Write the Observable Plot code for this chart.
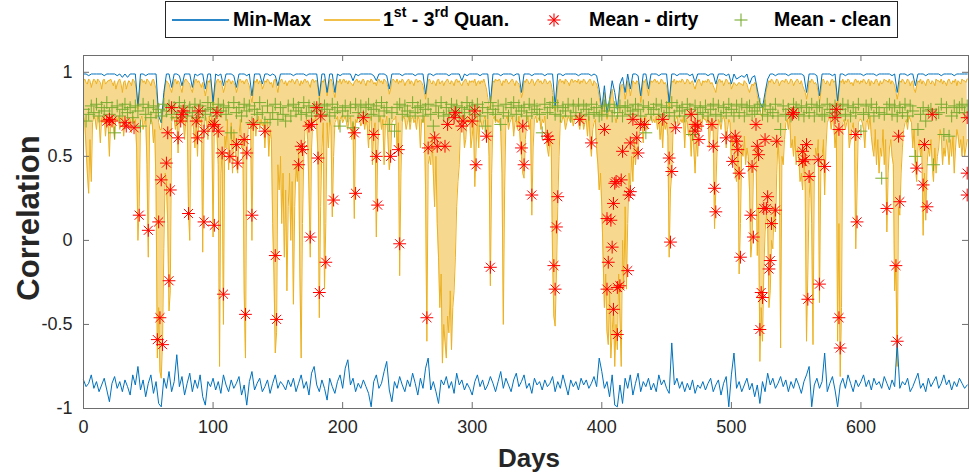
<!DOCTYPE html>
<html><head><meta charset="utf-8">
<script src="https://cdn.jsdelivr.net/npm/d3@7"></script>
<script src="https://cdn.jsdelivr.net/npm/@observablehq/plot@0.6"></script>
<style>
body{margin:0;background:#fff;}
#wrap{position:relative;width:969px;height:476px;overflow:hidden;font-family:"Liberation Sans",Arial,Helvetica,sans-serif;}
#chart{position:absolute;left:0;top:0;}
#legend{position:absolute;left:165px;top:1px;width:731px;height:35px;border:1px solid #262626;background:#fff;font-weight:bold;font-size:19.5px;color:#000;}
.li{position:absolute;top:0;height:100%;display:flex;align-items:center;white-space:nowrap;}
.ln{position:absolute;top:17px;height:2px;}
.sp{font-size:14px;position:relative;top:-8px;}
#ylab{position:absolute;left:28px;top:218px;transform:translate(-50%,-50%) rotate(-90deg);font-weight:bold;font-size:31px;color:#262626;white-space:nowrap;line-height:1;}
#xlab{position:absolute;left:529px;top:458px;transform:translate(-50%,-50%);font-weight:bold;font-size:26px;color:#262626;line-height:1;}
</style></head>
<body>
<div id="wrap">
  <div id="chart"></div>
  <div id="legend">
    <div class="ln" style="left:6px;width:57px;background:#2b86c8;"></div>
    <div class="li" style="left:67px;">Min-Max</div>
    <div class="ln" style="left:158px;width:56px;background:#f0c04a;"></div>
    <div class="li" style="left:217px;">1<span class="sp">st</span>&nbsp;- 3<span class="sp">rd</span>&nbsp;Quan.</div>
    <div class="li" style="left:381px;"><svg width="14" height="14"><g stroke="#FF0000" stroke-width="1.1"><line x1="7" y1="0.5" x2="7" y2="13.5"/><line x1="0.5" y1="7" x2="13.5" y2="7"/><line x1="2.4" y1="2.4" x2="11.6" y2="11.6"/><line x1="11.6" y1="2.4" x2="2.4" y2="11.6"/></g></svg></div>
    <div class="li" style="left:423px;">Mean - dirty</div>
    <div class="li" style="left:568px;"><svg width="14" height="14"><g stroke="#77AC30" stroke-width="1.1"><line x1="7" y1="0.5" x2="7" y2="13.5"/><line x1="0.5" y1="7" x2="13.5" y2="7"/></g></svg></div>
    <div class="li" style="left:608px;">Mean - clean</div>
  </div>
  <div id="ylab">Correlation</div>
  <div id="xlab">Days</div>
</div>
<script>
// min / max / clean-mean series are sampled every 2 days; quartiles are daily
const dayStep = 2;

const maxVals = [
.99,.99,.98,.99,.99,.99,.99,.99,.98,.99,
.99,.99,.99,.98,.99,.97,.99,.97,.99,.99,
.99,.80,.99,.99,.98,.99,.99,.99,.99,.74,
.70,.88,.99,.99,.91,.99,.99,.98,.92,.99,
.99,.99,.91,.99,.98,.99,.99,.90,.99,.99,
.82,.99,.98,.99,.92,.99,.99,.99,.98,.91,
.99,.99,.99,.98,.99,.86,.99,.99,.99,.93,
.99,.99,.98,.99,.98,.92,.99,.99,.99,.99,
.99,.98,.99,.99,.99,.99,.98,.99,.99,.99,
.99,.86,.99,.99,.88,.99,.99,.88,.99,.98,
.99,.99,.99,.99,.95,.99,.98,.99,.99,.99,
.99,.99,.98,.95,.99,.99,.99,.98,.90,.99,
.99,.99,.99,.98,.99,.99,.99,.99,.98,.99,
.99,.99,.87,.99,.99,.98,.99,.99,.99,.99,
.99,.98,.99,.99,.99,.99,.95,.99,.98,.99,
.99,.99,.99,.98,.99,.99,.99,.82,.99,.99,
.99,.98,.99,.99,.99,.99,.98,.99,.99,.88,
.99,.99,.99,.98,.99,.99,.99,.99,.98,.99,
.99,.99,.80,.99,.99,.98,.99,.99,.99,.99,
.99,.98,.99,.99,.99,.99,.98,.99,.98,.90,
.78,.92,.76,.84,.95,.88,.78,.93,.97,.88,
.99,.90,.99,.99,.98,.86,.99,.99,.90,.99,
.99,.99,.98,.99,.99,.99,.82,.99,.99,.98,
.99,.99,.99,.99,.98,.99,.94,.99,.99,.99,
.99,.98,.99,.99,.93,.99,.99,.99,.98,.99,
.93,.99,.96,.97,.98,.97,.99,.93,.97,.98,
.90,.82,.79,.88,.96,.99,.99,.98,.99,.99,
.99,.99,.98,.99,.99,.99,.99,.99,.98,.88,
.99,.99,.99,.98,.86,.99,.99,.99,.99,.98,
.99,.83,.99,.99,.98,.99,.99,.99,.99,.99,
.99,.98,.99,.99,.99,.99,.98,.99,.99,.99,
.99,.99,.98,.99,.88,.99,.99,.99,.98,.99,
.99,.92,.99,.99,.99,.98,.99,.99,.99,.99,
.99,.98,.99,.99,.99,.99,.98,.99,.99,.99,
.99,.99];

const minVals = [
-.83,-.87,-.85,-.80,-.88,-.84,-.90,-.86,-.82,-.89,
-.96,-.85,-.81,-.88,-.84,-.90,-.83,-.87,-.92,-.80,
-.86,-.75,-.89,-.83,-.93,-.85,-.80,-.91,-.84,-.97,
-.99,-.82,-.88,-.78,-.90,-.84,-.68,-.87,-.81,-.92,
-.85,-.79,-.90,-.83,-.88,-.80,-.93,-.98,-.84,-.87,
-.82,-.89,-.84,-.91,-.80,-.86,-.90,-.83,-.88,-.85,
-.81,-.92,-.86,-.98,-.84,-.78,-.89,-.85,-.82,-.90,
-.87,-.83,-.91,-.85,-.80,-.88,-.84,-.86,-.89,-.83,
-.87,-.82,-.90,-.85,-.80,-.88,-.84,-.92,-.79,-.75,
-.86,-.90,-.83,-.88,-.95,-.82,-.87,-.91,-.84,-.80,
-.88,-.76,-.71,-.86,-.82,-.90,-.85,-.88,-.83,-.87,
-.91,-.99,-.84,-.80,-.88,-.85,-.78,-.72,-.89,-.96,
-.84,-.88,-.81,-.86,-.90,-.83,-.87,-.79,-.85,-.92,
-.82,-.88,-.76,-.70,-.89,-.84,-.90,-.97,-.83,-.86,
-.81,-.88,-.84,-.91,-.79,-.86,-.83,-.89,-.85,-.88,
-.92,-.84,-.80,-.87,-.83,-.89,-.86,-.81,-.85,-.90,
-.84,-.78,-.88,-.82,-.86,-.90,-.83,-.79,-.87,-.84,
-.80,-.88,-.85,-.91,-.82,-.86,-.84,-.89,-.83,-.87,
-.85,-.81,-.90,-.84,-.88,-.80,-.86,-.92,-.83,-.87,
-.84,-.89,-.82,-.86,-.83,-.88,-.85,-.81,-.87,-.70,
-.78,-.88,-.84,-.93,-.80,-.98,-.99,-.86,-.97,-.82,
-.88,-.80,-.92,-.85,-.79,-.90,-.84,-.87,-.82,-.89,
-.85,-.90,-.80,-.86,-.83,-.88,-.91,-.61,-.86,-.82,
-.88,-.84,-.90,-.85,-.89,-.83,-.91,-.86,-.88,-.84,
-.89,-.85,-.82,-.90,-.86,-.83,-.92,-.85,-.81,-.99,
-.80,-.67,-.88,-.84,-.90,-.86,-.82,-.89,-.85,-.93,
-.86,-.97,-.84,-.90,-.79,-.86,-.82,-.88,-.85,-.81,
-.87,-.83,-.90,-.84,-.88,-.82,-.86,-.91,-.84,-.80,
-.75,-.99,-.86,-.82,-.88,-.84,-.67,-.90,-.85,-.81,
-.89,-.99,-.86,-.82,-.88,-.80,-.85,-.90,-.83,-.87,
-.84,-.80,-.87,-.83,-.89,-.82,-.86,-.84,-.88,-.81,
-.85,-.89,-.83,-.87,-.61,-.88,-.84,-.86,-.82,-.90,
-.87,-.83,-.79,-.88,-.85,-.90,-.82,-.87,-.84,-.81,
-.88,-.85,-.80,-.86,-.83,-.89,-.84,-.87,-.82,-.85,
-.88,-.86];

const cleanVals = [
.78,.71,.75,.80,.76,.81,.74,.79,.77,.82,
.75,.79,.64,.80,.74,.78,.81,.76,.79,.73,
.80,.77,.68,.81,.75,.79,.73,.80,.76,.78,
.74,.81,.77,.80,.75,.79,.73,.82,.76,.80,
.74,.79,.76,.81,.73,.80,.77,.75,.82,.78,
.79,.74,.81,.77,.80,.75,.79,.64,.82,.76,
.79,.74,.81,.77,.80,.70,.78,.75,.82,.76,
.70,.80,.72,.76,.81,.72,.79,.75,.71,.80,
.74,.81,.77,.79,.75,.82,.76,.80,.74,.79,
.77,.81,.75,.80,.78,.74,.81,.76,.79,.68,
.77,.80,.74,.79,.67,.81,.76,.80,.74,.79,
.81,.75,.78,.80,.74,.82,.77,.79,.69,.76,
.65,.79,.81,.75,.80,.77,.74,.82,.76,.79,
.80,.74,.78,.81,.75,.68,.80,.76,.82,.74,
.79,.75,.81,.77,.80,.74,.79,.76,.82,.78,
.80,.75,.81,.74,.79,.68,.76,.82,.78,.75,
.80,.69,.76,.81,.74,.79,.82,.75,.80,.77,
.79,.74,.81,.76,.80,.78,.75,.64,.81,.76,
.79,.82,.75,.80,.74,.79,.77,.81,.74,.80,
.76,.81,.74,.80,.78,.75,.81,.76,.79,.74,
.75,.80,.77,.81,.74,.79,.76,.80,.74,.79,
.80,.75,.77,.81,.78,.74,.80,.64,.79,.75,
.78,.81,.75,.80,.74,.79,.76,.82,.74,.80,
.77,.79,.74,.81,.78,.63,.80,.75,.79,.76,
.80,.74,.78,.81,.75,.80,.74,.79,.76,.81,
.78,.74,.80,.76,.81,.74,.79,.80,.75,.77,
.79,.81,.75,.80,.74,.78,.76,.81,.74,.66,
.80,.75,.78,.74,.81,.79,.75,.80,.74,.79,
.76,.81,.74,.79,.80,.75,.74,.81,.78,.76,
.80,.74,.78,.81,.75,.80,.74,.79,.76,.81,
.65,.75,.80,.76,.81,.74,.79,.76,.37,.75,
.79,.81,.75,.80,.74,.79,.76,.81,.74,.80,
.77,.50,.66,.75,.79,.71,.77,.78,.45,.75,
.76,.81,.63,.79,.62,.74,.80,.76,.79,.81,
.76,.80];

// daily 1st quartile, days 0..682
const q1Vals = [
.74,.70,.55,.40,.28,.60,.35,.70,.74,.72,.66,.74,.72,.58,.73,.70,.74,.62,.72,.70,
.50,.72,.74,.68,.60,.73,.71,.74,.66,.72,.74,.62,.70,.73,.74,.68,.72,.64,.74,.70,
.72,.55,.00,.20,.72,.74,.66,.70,.73,.45,-.10,.68,.72,.70,.58,.66,.30,-.70,-.40,-.78,
-.82,-.60,-.05,.40,.35,.10,-.42,-.30,.70,.74,.72,.66,.74,.52,.72,.74,.70,.73,.60,.72,
.74,.20,.00,.72,.74,.66,.55,.72,.50,.74,.70,.72,-.07,.66,.74,.72,.60,.74,.68,.73,
.02,.72,.70,.64,.45,-.75,.40,.52,-.50,.62,.55,.72,.42,.58,.70,.40,.66,.58,.45,.40,
.62,.72,.55,.60,-.30,-.70,.50,.66,.70,.68,.00,.66,.72,.62,.70,.74,.66,.72,.68,.70,
.55,.70,.72,.50,.66,.60,.10,-.20,-.67,-.55,.45,.30,.50,.10,.40,-.10,.30,-.30,.20,.40,
.00,.35,-.38,.20,.45,.35,.55,-.20,-.70,.10,.50,.68,.72,.60,.30,-.10,.55,.72,.70,.74,
.68,.50,-.46,.20,.55,.70,-.29,.10,.70,.55,.72,.68,.14,.50,.70,.72,.74,.66,.72,.74,
.70,.72,.74,.70,.66,.72,.74,.60,.70,.13,.72,.70,.74,.72,.68,.70,.74,.66,.72,.68,
.55,.72,.74,.45,.66,.70,.02,.50,.70,.74,.66,.72,.45,.70,.74,.60,.42,.50,.70,.72,
.72,.74,.55,.70,-.21,.40,.70,.74,.72,.66,.70,.74,.66,.72,.74,.70,.72,.66,.74,.72,
.55,.72,.70,.74,.30,-.60,.45,.50,.45,.62,.40,.20,.50,.10,-.10,-.40,-.20,-.73,-.50,-.60,
-.70,-.45,-.55,-.30,-.65,-.40,-.30,-.10,.20,.35,.45,.70,.74,.72,.55,.60,.72,.70,.74,.55,
.62,.72,.32,.55,.74,.55,.72,.70,.66,.72,.74,.58,.72,.50,-.27,.40,.72,.74,.70,.72,
.70,.72,.66,.40,-.50,.30,.72,.74,.66,.70,.72,.74,.62,.70,.72,.66,.74,.60,.50,.40,
.37,.60,.70,.74,.66,.72,.15,.55,.72,.74,.70,.72,.74,.66,.72,.70,.74,.62,.55,.50,
.60,.55,-.10,-.45,-.51,-.20,.20,.50,.72,.70,.74,.72,.66,.70,.74,.72,.70,.74,.68,.72,
.72,.74,.70,.66,.72,.74,.66,.70,.72,.62,.74,.60,.50,.66,.70,.72,.55,.45,.30,.40,
.20,-.10,-.40,-.20,-.54,-.62,-.30,-.70,-.55,-.40,-.75,-.50,-.65,-.20,-.45,-.75,.00,-.29,.20,-.29,
.10,.40,.30,.50,.35,.60,.45,.55,.50,.66,.70,.72,.58,.74,.72,.66,.70,.72,.74,.70,
.72,.70,.74,.66,.72,.60,.70,.55,.72,.66,.70,.62,-.10,.30,.40,.66,.70,.72,.74,.68,
.70,.72,.70,.74,.55,.72,.70,.62,.66,.50,.70,.55,.40,.60,.50,.70,.72,.66,.74,.72,
.72,.70,.74,.55,.70,.72,.66,.07,.30,.55,.72,.70,.66,.72,.74,.70,.55,.66,.72,.70,
.45,.60,.55,.40,.35,.60,-.20,.10,.55,.50,.62,.45,.55,.50,.30,-.10,.00,.40,.50,.55,
-.09,.20,-.72,-.40,-.60,-.20,.05,.15,.10,-.40,-.30,.00,-.05,.20,.05,.40,.60,.45,-.64,.50,
.45,.60,.70,.72,.66,.74,.55,.60,.50,.62,.45,.55,.50,.35,.40,.30,.55,.30,-.60,-.20,
.25,.40,.10,-.62,.40,.55,.50,.60,-.37,.40,.50,.60,.27,.55,.70,.72,.74,.66,.72,.70,
.55,.66,-.60,.10,-.81,-.40,.70,.72,.66,.70,.72,.55,.60,.66,.70,.62,-.05,.30,.70,.72,
.72,.70,.66,.55,.70,.72,.66,.74,.62,.55,.50,.66,.45,.60,.40,.55,.50,.66,.45,.60,
.05,.40,.55,.60,.50,.45,-.30,-.15,-.75,.20,.15,.40,.55,.66,.70,.72,.66,.74,.72,.70,
.55,.66,.45,.35,.55,.60,.50,.55,.03,.40,.12,.45,.55,.50,.60,.45,.35,.55,.40,.50,
.55,.66,.62,.45,.55,.50,.60,.55,.45,.60,.50,.62,.40,.55,.66,.62,.55,.60,.50,.62,
.50,.55,.60];

// daily 3rd quartile, days 0..682
const q3Vals = [
.95,.96,.94,.93,.96,.95,.91,.94,.96,.95,.93,.96,.95,.94,.90,.95,.96,.93,.94,.95,
.95,.96,.94,.92,.95,.90,.93,.95,.96,.93,.88,.94,.95,.90,.93,.95,.94,.92,.96,.95,
.93,.88,.78,.86,.95,.96,.94,.95,.93,.96,.95,.94,.92,.95,.96,.93,.90,.82,.70,.66,
.66,.74,.85,.92,.95,.94,.93,.90,.88,.92,.95,.96,.93,.95,.94,.91,.88,.93,.95,.96,
.95,.94,.93,.90,.88,.92,.95,.96,.94,.95,.93,.91,.94,.90,.86,.90,.95,.94,.96,.90,
.80,.88,.93,.95,.96,.94,.95,.92,.88,.91,.95,.94,.96,.95,.93,.95,.94,.92,.88,.91,
.95,.96,.94,.95,.93,.95,.96,.94,.92,.86,.82,.88,.95,.94,.96,.93,.95,.94,.90,.92,
.95,.94,.96,.95,.93,.94,.91,.95,.96,.92,.88,.93,.95,.96,.94,.93,.95,.92,.94,.95,
.94,.96,.95,.93,.95,.96,.94,.92,.95,.93,.95,.96,.94,.95,.93,.91,.95,.96,.94,.95,
.95,.90,.84,.90,.95,.94,.96,.92,.86,.91,.95,.96,.94,.88,.85,.92,.95,.94,.96,.93,
.95,.96,.94,.95,.93,.95,.94,.93,.92,.94,.95,.96,.94,.95,.93,.95,.96,.94,.92,.95,
.95,.94,.96,.95,.93,.94,.92,.95,.96,.94,.95,.93,.96,.95,.94,.91,.87,.90,.95,.96,
.95,.94,.96,.93,.95,.94,.96,.95,.92,.94,.95,.96,.93,.95,.94,.92,.95,.96,.94,.95,
.95,.94,.92,.88,.84,.90,.95,.96,.94,.93,.95,.94,.92,.95,.96,.93,.94,.95,.92,.94,
.95,.96,.94,.93,.95,.94,.92,.95,.96,.94,.95,.93,.92,.94,.95,.96,.94,.92,.95,.94,
.95,.94,.96,.92,.94,.95,.93,.95,.94,.96,.93,.90,.85,.80,.78,.88,.95,.94,.96,.95,
.95,.96,.94,.92,.95,.94,.96,.95,.93,.94,.95,.96,.94,.92,.95,.94,.93,.90,.85,.88,
.95,.94,.96,.95,.93,.94,.96,.95,.92,.94,.95,.96,.94,.95,.93,.94,.96,.95,.93,.94,
.95,.93,.88,.82,.77,.85,.92,.95,.96,.94,.95,.93,.96,.95,.94,.92,.95,.96,.94,.95,
.95,.94,.96,.93,.95,.94,.96,.95,.93,.94,.95,.96,.94,.92,.95,.94,.93,.90,.85,.80,
.74,.80,.88,.80,.72,.76,.80,.86,.90,.84,.74,.70,.74,.82,.88,.92,.93,.90,.84,.88,
.95,.91,.86,.90,.95,.94,.93,.95,.94,.92,.82,.88,.95,.94,.96,.90,.86,.92,.95,.94,
.95,.96,.94,.95,.93,.94,.96,.95,.93,.94,.92,.86,.78,.88,.95,.94,.96,.93,.95,.94,
.95,.94,.96,.95,.93,.94,.96,.95,.93,.94,.95,.92,.90,.93,.95,.96,.94,.92,.95,.94,
.95,.94,.96,.95,.93,.94,.92,.90,.88,.93,.95,.96,.94,.95,.92,.94,.96,.95,.93,.94,
.90,.92,.94,.93,.92,.93,.94,.93,.93,.92,.95,.94,.93,.90,.88,.91,.93,.92,.94,.93,
.86,.82,.78,.74,.75,.80,.84,.90,.92,.95,.94,.96,.95,.93,.94,.96,.95,.92,.94,.95,
.95,.94,.96,.95,.93,.94,.96,.95,.92,.94,.95,.96,.94,.93,.95,.92,.90,.88,.84,.88,
.95,.94,.96,.95,.93,.94,.92,.88,.82,.88,.95,.96,.94,.93,.95,.94,.92,.95,.96,.94,
.95,.88,.80,.88,.95,.94,.96,.93,.95,.94,.96,.95,.93,.94,.92,.95,.96,.94,.95,.93,
.95,.94,.96,.95,.93,.94,.96,.92,.95,.94,.93,.95,.96,.94,.92,.95,.93,.94,.96,.95,
.95,.94,.96,.93,.95,.94,.92,.88,.84,.88,.95,.94,.96,.95,.93,.94,.96,.95,.92,.94,
.95,.90,.88,.92,.95,.94,.96,.93,.95,.94,.92,.95,.96,.94,.93,.95,.94,.92,.96,.95,
.95,.94,.96,.93,.95,.94,.92,.95,.96,.94,.93,.95,.94,.96,.92,.95,.94,.93,.96,.95,
.95,.94,.96];

const dirtyDays = [
18,20,22,32,33,39,43,50,58,60,64,65,68,67,66,59,57,61,73,75,76,77,81,87,88,89,93,93,101,100,101,104,103,107,108,113,118,119,124,126,125,130,131,
140,148,149,166,168,169,175,174,176,180,183,181,182,187,193,209,210,216,224,226,227,237,243,244,265,266,271,273,
279,281,286,287,292,293,300,302,303,311,314,339,338,340,346,358,359,366,365,363,364,383,392,402,410,409,404,407,408,405,404,409,412,412,
424,430,433,427,422,416,428,415,411,422,421,414,420,447,457,452,454,453,469,472,474,472,475,485,486,487,488,496,503,504,505,501,506,507,516,515,517,519,520,521,526,535,528,525,527,534,531,530,529,523,524,522,547,
548,558,555,555,557,560,567,572,559,568,581,580,583,583,584,596,597,620,629,630,627,628,649,643,648,651,655,682,682,682];

const dirtyVals = [
.71,.72,.71,.70,.68,.67,.15,.06,.11,.36,.46,.64,.79,.30,-.24,-.46,-.59,-.62,.61,.71,.75,.77,.16,.71,.61,.77,.65,.11,.09,.68,.69,.65,.76,.52,-.32,.50,.57,.46,.60,.52,-.44,.15,.69,
.65,-.09,-.47,.45,.56,.54,.02,.68,.69,.79,.74,.49,-.31,-.13,.24,.64,.28,.73,.63,.50,.21,.50,.54,-.02,-.46,.55,.61,.56,
.56,.69,.73,.76,.68,.71,.71,.77,.45,.62,-.16,.68,.55,.45,.27,.62,.60,.26,.08,-.15,-.29,.72,.58,.66,.34,.22,.13,.12,-.04,-.13,-.29,-.41,-.28,-.56,
.72,.69,.69,.61,.58,.53,.52,.36,.35,.29,.27,-.27,-.18,.72,.67,.49,.41,-.01,.75,.69,.68,.65,.60,.69,.56,.31,.17,.61,.62,.59,.54,.47,.40,-.10,.44,.15,.02,.69,.56,.51,.60,.59,.26,.19,.19,.18,.10,-.12,-.17,-.31,-.34,-.53,.75,
.76,.57,.53,.47,.48,.38,.48,.44,-.35,-.26,.78,.73,.66,-.46,-.64,.63,.11,.19,.62,.23,-.15,-.60,.57,.43,.33,.20,.75,.40,.27,.73];

const xTicks = [0, 100, 200, 300, 400, 500, 600];
const yTicks = [-1, -0.5, 0, 0.5, 1];
const xDomain = [0, 683];
const yDomain = [-1, 1.1];

const blue = "#0072BD", orange = "#EDB120", red = "#FF0000", green = "#77AC30", axisCol = "#262626";

const series = maxVals.map((v, i) => ({day: i * dayStep, max: v, min: minVals[i], clean: cleanVals[i]}));
const quart = q1Vals.map((v, i) => ({day: i, q1: v, q3: q3Vals[i]}));
const dirty = dirtyDays.map((d, i) => ({day: d, v: dirtyVals[i]}));

const W = 969, H = 476, mL = 83, mR = 1, mT = 55, mB = 68;
const innerW = W - mL - mR, innerH = H - mT - mB;
const tickPx = 6;
const dyTick = (yDomain[1] - yDomain[0]) * tickPx / innerH;
const dxTick = (xDomain[1] - xDomain[0]) * tickPx / innerW;

const chart = Plot.plot({
  width: W, height: H,
  marginLeft: mL, marginRight: mR, marginTop: mT, marginBottom: mB,
  x: {domain: xDomain},
  y: {domain: yDomain},
  style: {fontFamily: "'Liberation Sans', Arial, Helvetica, sans-serif", fontSize: "18px", color: axisCol, background: "transparent"},
  marks: [
    Plot.areaY(quart, {x: "day", y1: "q1", y2: "q3", fill: orange, fillOpacity: 0.5}),
    Plot.lineY(quart, {x: "day", y: "q1", stroke: orange, strokeWidth: 1}),
    Plot.lineY(quart, {x: "day", y: "q3", stroke: orange, strokeWidth: 1}),
    Plot.lineY(series, {x: "day", y: "max", stroke: blue, strokeWidth: 1}),
    Plot.lineY(series, {x: "day", y: "min", stroke: blue, strokeWidth: 1}),
    Plot.dot(series, {x: "day", y: "clean", symbol: "plus", r: 4.2, stroke: green, fill: "none", strokeWidth: 1, clip: true}),
    Plot.dot(dirty, {x: "day", y: "v", symbol: "plus", r: 4.2, stroke: red, fill: "none", strokeWidth: 1, clip: true}),
    Plot.dot(dirty, {x: "day", y: "v", symbol: "times", r: 4.2, stroke: red, fill: "none", strokeWidth: 1, clip: true}),
    Plot.frame({stroke: "#6e6e6e"}),
    Plot.ruleX(xTicks, {x: d => d, y1: yDomain[0], y2: yDomain[0] + dyTick, stroke: "#6e6e6e"}),
    Plot.ruleX(xTicks, {x: d => d, y1: yDomain[1], y2: yDomain[1] - dyTick, stroke: "#6e6e6e"}),
    Plot.ruleY(yTicks, {y: d => d, x1: xDomain[0], x2: xDomain[0] + dxTick, stroke: "#6e6e6e"}),
    Plot.ruleY(yTicks, {y: d => d, x1: xDomain[1], x2: xDomain[1] - dxTick, stroke: "#6e6e6e"}),
    Plot.axisX({ticks: xTicks, tickSize: 0, tickPadding: 12, tickFormat: d => String(d), fontSize: 18, label: null, fill: axisCol}),
    Plot.axisY({ticks: yTicks, tickSize: 0, tickPadding: 11, tickFormat: d => String(d), fontSize: 18, label: null, fill: axisCol})
  ]
});
document.getElementById("chart").appendChild(chart);
</script>
</body></html>
